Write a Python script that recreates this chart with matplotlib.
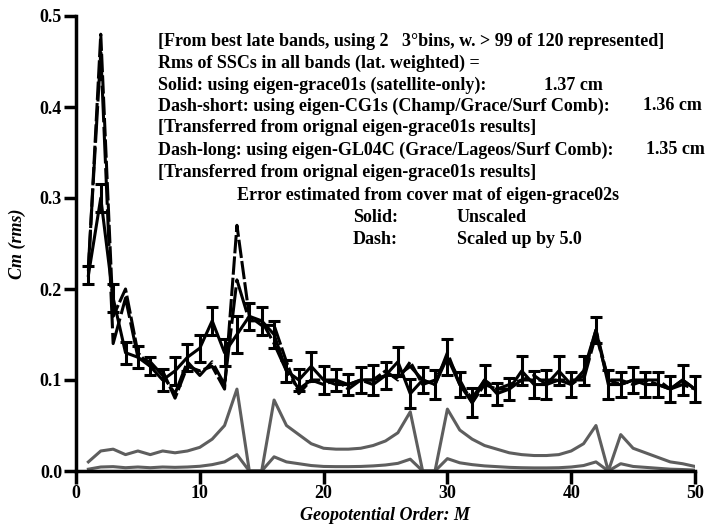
import numpy as np
import matplotlib
matplotlib.use("Agg")
import matplotlib.pyplot as plt

# geopotential order
order = np.arange(1, 51)

# solid: eigen-grace01s (with error bars)
solid = [0.215, 0.30, 0.19, 0.13, 0.125, 0.115, 0.10, 0.11, 0.125, 0.135,
         0.165, 0.13, 0.15, 0.17, 0.165, 0.15, 0.11, 0.10, 0.115, 0.10,
         0.10, 0.095, 0.10, 0.10, 0.105, 0.12, 0.085, 0.10, 0.095, 0.125,
         0.095, 0.075, 0.10, 0.085, 0.09, 0.11, 0.095, 0.095, 0.11, 0.095,
         0.11, 0.155, 0.095, 0.095, 0.10, 0.095, 0.095, 0.09, 0.10, 0.09]
solid_err = [0.010, 0.015, 0.015, 0.012, 0.012, 0.010, 0.012, 0.015, 0.015, 0.015,
             0.015, 0.015, 0.020, 0.015, 0.015, 0.015, 0.012, 0.012, 0.016, 0.015,
             0.012, 0.012, 0.014, 0.016, 0.015, 0.016, 0.016, 0.014, 0.016, 0.020,
             0.014, 0.016, 0.016, 0.012, 0.012, 0.016, 0.015, 0.016, 0.016, 0.014,
             0.016, 0.014, 0.016, 0.014, 0.014, 0.014, 0.014, 0.014, 0.016, 0.014]

# dash-short: eigen-CG1s
dash_short = [0.22, 0.48, 0.17, 0.20, 0.13, 0.115, 0.11, 0.08, 0.115, 0.11,
              0.115, 0.09, 0.27, 0.17, 0.16, 0.16, 0.12, 0.085, 0.10, 0.095,
              0.10, 0.09, 0.10, 0.10, 0.11, 0.10, 0.12, 0.095, 0.10, 0.125,
              0.10, 0.075, 0.095, 0.09, 0.095, 0.10, 0.10, 0.10, 0.10, 0.095,
              0.105, 0.155, 0.10, 0.10, 0.095, 0.10, 0.095, 0.09, 0.095, 0.09]

# dash-long: eigen-GL04C
dash_long = [0.225, 0.46, 0.14, 0.19, 0.125, 0.12, 0.105, 0.085, 0.12, 0.105,
             0.12, 0.095, 0.21, 0.165, 0.165, 0.14, 0.11, 0.09, 0.10, 0.10,
             0.095, 0.095, 0.10, 0.095, 0.105, 0.105, 0.115, 0.10, 0.095, 0.13,
             0.095, 0.08, 0.10, 0.09, 0.09, 0.10, 0.105, 0.095, 0.10, 0.10,
             0.10, 0.15, 0.10, 0.095, 0.10, 0.10, 0.10, 0.09, 0.10, 0.09]

# error from cov mat of eigen-grace02s (unscaled)
err_unscaled = [0.002, 0.0044, 0.0048, 0.0036, 0.0044, 0.0036, 0.0044, 0.004, 0.0044, 0.0052,
                0.007, 0.010, 0.018, 0.0, 0.0, 0.0156, 0.010, 0.008, 0.006, 0.005,
                0.0048, 0.0048, 0.005, 0.0056, 0.0066, 0.0084, 0.013, 0.0, 0.0, 0.0136,
                0.009, 0.007, 0.0056, 0.0048, 0.004, 0.0036, 0.0034, 0.0034, 0.0036, 0.0044,
                0.006, 0.010, 0.0, 0.008, 0.005, 0.004, 0.003, 0.002, 0.0016, 0.001]
scale = 5.0
err_scaled = [scale * e for e in err_unscaled]

W, H = 706, 525
fig = plt.figure(figsize=(W / 100, H / 100), dpi=100)
ax = fig.add_axes([76 / W, 1 - 471 / H, (695 - 76) / W, (471 - 16) / H])

font = dict(family="Liberation Serif", weight="bold")
gray = "#5e5e5e"

ax.plot(order, err_unscaled, color=gray, lw=2.2)
ax.plot(order, err_scaled, color=gray, lw=2.2)

ax.plot(order, dash_short, color="black", lw=2.2, dashes=(6, 1))
ax.plot(order, dash_long, color="black", lw=2.2, dashes=(12, 1.5))
ax.errorbar(order, solid, yerr=solid_err, color="black", lw=2.2,
            elinewidth=2.2, capsize=4.5, capthick=2.2, clip_on=False)

ax.set_xlim(0, 50)
ax.set_ylim(0, 0.5)
ax.set_xticks([0, 10, 20, 30, 40, 50])
ax.set_yticks([0.0, 0.1, 0.2, 0.3, 0.4, 0.5])
ax.set_yticklabels(["0.0", "0.1", "0.2", "0.3", "0.4", "0.5"])
for s in ["top", "right"]:
    ax.spines[s].set_visible(False)
for s in ["left", "bottom"]:
    ax.spines[s].set_linewidth(2.5)
ax.tick_params(direction="out", length=9, width=2.5, labelsize=13, pad=1)
for lab in ax.get_xticklabels() + ax.get_yticklabels():
    lab.set_fontfamily("Liberation Serif")
    lab.set_fontweight("bold")

ax.set_xlabel("Geopotential Order: M", fontsize=13, style="italic", labelpad=4, **font)
ax.set_ylabel("Cm (rms)", fontsize=13, style="italic", labelpad=10, **font)

def txt(x, y, s):
    fig.text(x / W, 1 - y / H, s, fontsize=13, va="center", ha="left", **font)

txt(158, 42, "[From best late bands, using 2   3\u00b0bins, w. > 99 of 120 represented]")
txt(158, 63, "Rms of SSCs in all bands (lat. weighted) =")
txt(158, 85, "Solid: using eigen-grace01s (satellite-only):")
txt(544, 85, "1.37 cm")
txt(158, 106, "Dash-short: using eigen-CG1s (Champ/Grace/Surf Comb):")
txt(643, 106, "1.36 cm")
txt(158, 128, "[Transferred from orignal eigen-grace01s results]")
txt(158, 150, "Dash-long: using eigen-GL04C (Grace/Lageos/Surf Comb):")
txt(646, 150, "1.35 cm")
txt(158, 172, "[Transferred from orignal eigen-grace01s results]")
txt(237, 195, "Error estimated from cover mat of eigen-grace02s")
txt(353, 217, "Solid:")
txt(457, 217, "Unscaled")
txt(353, 240, "Dash:")
txt(457, 240, "Scaled up by 5.0")

fig.savefig("out.png", dpi=100)
